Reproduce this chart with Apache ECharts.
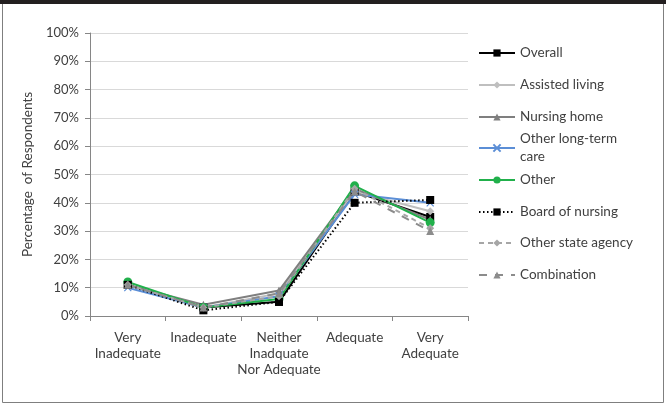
<!DOCTYPE html>
<html>
<head>
<meta charset="utf-8">
<script src="https://cdn.jsdelivr.net/npm/echarts@6/dist/echarts.min.js"></script>
<style>
  html, body { margin: 0; padding: 0; background: #ffffff; }
  #chart { width: 666px; height: 404px; }
</style>
</head>
<body>
<div id="chart"></div>
<script>
// Rating categories along the x axis
const categories = ['Very\nInadequate', 'Inadequate', 'Neither\nInadquate\nNor Adequate', 'Adequate', 'Very\nAdequate'];

// Percentage of respondents per group
const overall        = [11, 3, 5, 44, 35];
const assistedLiving = [11, 3, 8, 44, 37];
const nursingHome    = [11, 4, 9, 45, 34];
const otherLongTerm  = [10, 3, 7, 43, 40];
const other          = [12, 3, 6, 46, 33];
const boardOfNursing = [11, 2, 5, 40, 41];
const otherState     = [11, 3, 7, 45, 31];
const combination    = [11, 3, 8, 44, 30];

// Y axis ticks
const yMin = 0, yMax = 100, yStep = 10;

const FONT = 'Lato, "Noto Sans", sans-serif';
const TEXT = '#404040';
const crossPath = 'path://M0,0L10,10M10,0L0,10';

const seriesDefs = [
  { name: 'Overall', data: overall, color: '#000000', type: 'solid', symbol: 'rect', size: 8 },
  { name: 'Assisted living', data: assistedLiving, color: '#BFBFBF', type: 'solid', symbol: 'diamond', size: 8 },
  { name: 'Nursing home', data: nursingHome, color: '#7F7F7F', type: 'solid', symbol: 'triangle', size: 8 },
  { name: 'Other long-term care', data: otherLongTerm, color: '#5B8ED6', type: 'solid', symbol: crossPath, size: 7, hollow: true },
  { name: 'Other', data: other, color: '#21B04B', type: 'solid', symbol: 'circle', size: 9 },
  { name: 'Board of nursing', data: boardOfNursing, color: '#000000', type: [1.5, 2.5], symbol: 'rect', size: 8 },
  { name: 'Other state agency', data: otherState, color: '#A6A6A6', type: [5, 4], symbol: 'diamond', size: 8 },
  { name: 'Combination', data: combination, color: '#8C8C8C', type: [8, 8], symbol: 'triangle', size: 8 }
];

// Vertical centre of each legend row
const legendRows = [53, 85, 117, 148, 180, 212, 243, 275];

const series = seriesDefs.map(d => ({
  name: d.name,
  type: 'line',
  data: d.data,
  symbol: d.symbol,
  symbolSize: d.size,
  showSymbol: true,
  lineStyle: { color: d.color, width: 2, type: d.type },
  itemStyle: d.hollow
    ? { color: d.color, borderColor: d.color, borderWidth: 1.2 }
    : { color: d.color, borderColor: d.color, borderWidth: 0 },
  emphasis: { disabled: true },
  animation: false
}));

const legends = seriesDefs.map((d, i) => {
  const multi = d.name === 'Other long-term care';
  return {
    data: [d.name],
    orient: 'vertical',
    left: 478,
    top: multi ? legendRows[i] - 27 : legendRows[i] - 8,
    padding: 0,
    itemWidth: 36,
    itemHeight: 9,
    itemGap: 0,
    selectedMode: false,
    formatter: multi ? 'Other long-term\ncare' : '{name}',
    textStyle: multi
      ? { fontFamily: FONT, fontSize: 13.5, color: TEXT, lineHeight: 18, padding: [18, 0, 0, 0] }
      : { fontFamily: FONT, fontSize: 13.5, color: TEXT, lineHeight: 16 }
  };
});

const chart = echarts.init(document.getElementById('chart'), null, { renderer: 'canvas' });
chart.setOption({
  backgroundColor: '#ffffff',
  animation: false,
  graphic: [
    { type: 'rect', shape: { x: 2.5, y: 0.5, width: 661, height: 402 }, style: { fill: 'none', stroke: '#7F7F7F', lineWidth: 1 }, silent: true },
    { type: 'rect', shape: { x: 0, y: 0, width: 666, height: 4 }, style: { fill: '#231F20' }, silent: true }
  ],
  grid: { left: 90, right: 198, top: 33, bottom: 88, containLabel: false },
  legend: legends,
  xAxis: {
    type: 'category',
    data: categories,
    boundaryGap: true,
    axisLine: { show: true, lineStyle: { color: '#868686', width: 1 } },
    axisTick: { show: true, alignWithLabel: false, length: 5, lineStyle: { color: '#868686' } },
    axisLabel: { fontFamily: FONT, fontSize: 13.5, color: TEXT, lineHeight: 16, margin: 14, interval: 0 }
  },
  yAxis: {
    type: 'value',
    min: yMin,
    max: yMax,
    interval: yStep,
    name: 'Percentage  of Respondents',
    nameLocation: 'middle',
    nameGap: 47,
    nameRotate: 90,
    nameTextStyle: { fontFamily: FONT, fontSize: 13.5, color: TEXT },
    axisLine: { show: true, lineStyle: { color: '#868686', width: 1 } },
    axisTick: { show: true, length: 5, lineStyle: { color: '#868686' } },
    axisLabel: { fontFamily: FONT, fontSize: 13, color: TEXT, formatter: '{value}%', margin: 11 },
    splitLine: { show: true, lineStyle: { color: '#D9D9D9', width: 1 } }
  },
  series: series
});
</script>
</body>
</html>
